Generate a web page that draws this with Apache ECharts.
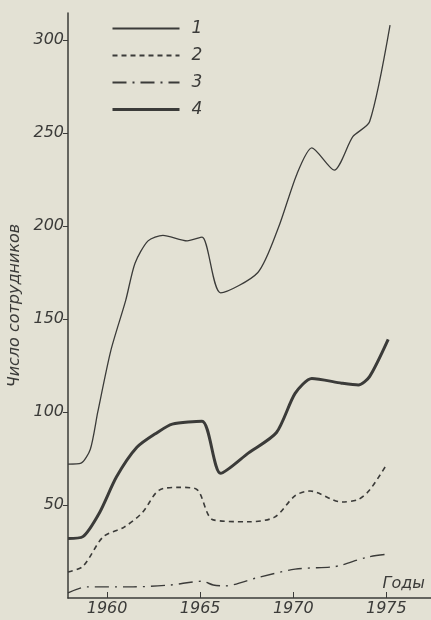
<!DOCTYPE html>
<html>
<head>
<meta charset="utf-8">
<script src="https://cdn.jsdelivr.net/npm/echarts@6/dist/echarts.min.js"></script>
<style>
  html, body { margin: 0; padding: 0; background: #e3e1d4; }
  #main { width: 431px; height: 620px; }
</style>
</head>
<body>
<div id="main"></div>
<script>
// кривые 1-4, значения
var years1 = [1957.9, 1958.6, 1959.1, 1959.5, 1960.2, 1961.0, 1961.5, 1962.2, 1963.0, 1964.3, 1965.1, 1966.1, 1968.1, 1969.2, 1970.2, 1971.0, 1972.2, 1973.2, 1974.1, 1975.2];
var vals1  = [72, 72.5, 80, 100, 133, 160, 180, 192, 195, 192, 194, 164, 175, 199, 228, 242, 230, 248, 256, 308];

var years2 = [1957.9, 1958.7, 1959.8, 1960.9, 1961.9, 1962.8, 1963.9, 1964.8, 1965.7, 1967.6, 1969.0, 1970.1, 1970.9, 1972.6, 1973.5, 1974.1, 1975.0];
var vals2  = [14, 17, 33, 38, 46, 58, 59.5, 58.5, 42, 41, 43.5, 55, 57.5, 51.6, 53, 58, 71.5];

var years3 = [1957.9, 1958.9, 1961.4, 1963.4, 1965.1, 1965.7, 1966.3, 1968.1, 1970.1, 1972.1, 1972.6, 1974.0, 1975.2];
var vals3  = [2.7, 6, 6, 7, 9, 7, 6.5, 11, 15.5, 16.7, 17.7, 22, 23.7];

var years4 = [1957.9, 1958.7, 1959.6, 1960.5, 1961.6, 1962.7, 1963.5, 1965.1, 1966.1, 1967.6, 1969.1, 1970.1, 1971.0, 1972.6, 1973.5, 1974.1, 1975.1];
var vals4  = [32, 33, 46, 65, 81, 89, 93.5, 95, 67, 78, 89, 110, 118, 115.5, 114.5, 119, 139];

var xTicks = [1960, 1965, 1970, 1975];
var yTicks = [50, 100, 150, 200, 250, 300];

var ink = '#3b3b39';
var font = 'DejaVu Sans';

function pairs(xs, ys) {
    return xs.map(function (x, i) { return [x, ys[i]]; });
}

var myChart = echarts.init(document.getElementById('main'));
option = {
    backgroundColor: '#e3e1d4',
    animation: false,
    grid: { left: 68, right: 0, top: 13, bottom: 22, outerBoundsMode: 'none' },
    legend: {
        orient: 'vertical',
        left: 106,
        top: 15,
        itemWidth: 67,
        itemHeight: 14,
        itemGap: 10,
        data: [
            { name: '1' },
            { name: '2' },
            { name: '3' },
            { name: '4', lineStyle: { width: 3 } }
        ],
        itemStyle: { color: 'transparent', borderColor: 'transparent', borderWidth: 0 },
        textStyle: {
            color: ink,
            fontSize: 17,
            fontStyle: 'italic',
            fontFamily: font,
            padding: [0, 0, 0, 7]
        }
    },
    xAxis: {
        type: 'value',
        min: 1957.9,
        max: 1977.4,
        axisLine: { lineStyle: { color: ink, width: 1.5 } },
        axisTick: { inside: true, length: 6, customValues: xTicks, lineStyle: { color: ink } },
        axisLabel: {
            customValues: xTicks,
            formatter: function (v) { return String(v); },
            color: ink,
            fontSize: 16,
            fontStyle: 'italic',
            fontFamily: font,
            margin: 3
        },
        splitLine: { show: false }
    },
    yAxis: {
        type: 'value',
        min: 0,
        max: 314.5,
        name: 'Число сотрудников',
        nameLocation: 'middle',
        nameGap: 40,
        nameTextStyle: {
            color: ink,
            fontSize: 16,
            fontStyle: 'italic',
            fontFamily: font
        },
        axisLine: { show: true, lineStyle: { color: ink, width: 1.5 } },
        axisTick: { show: true, length: 5, customValues: yTicks, lineStyle: { color: ink } },
        axisLabel: {
            customValues: yTicks,
            color: ink,
            fontSize: 16,
            fontStyle: 'italic',
            fontFamily: font,
            margin: 4
        },
        splitLine: { show: false }
    },
    graphic: [{
        type: 'text',
        right: 6,
        bottom: 28,
        style: {
            text: 'Годы',
            fill: ink,
            fontSize: 16,
            fontStyle: 'italic',
            fontFamily: font
        }
    }],
    series: [{
        name: '1',
        type: 'line',
        smooth: 0.25,
        symbol: 'none',
        data: pairs(years1, vals1),
        lineStyle: { color: ink, width: 1.3 },
        itemStyle: { color: ink }
    }, {
        name: '2',
        type: 'line',
        smooth: 0.3,
        symbol: 'none',
        data: pairs(years2, vals2),
        lineStyle: { color: ink, width: 1.6, type: [5, 4] },
        itemStyle: { color: ink }
    }, {
        name: '3',
        type: 'line',
        smooth: 0.3,
        symbol: 'none',
        data: pairs(years3, vals3),
        lineStyle: { color: ink, width: 1.4, type: [14, 6, 2, 6] },
        itemStyle: { color: ink }
    }, {
        name: '4',
        type: 'line',
        smooth: 0.25,
        symbol: 'none',
        data: pairs(years4, vals4),
        lineStyle: { color: ink, width: 3 },
        itemStyle: { color: ink }
    }]
};
myChart.setOption(option);
</script>
</body>
</html>
